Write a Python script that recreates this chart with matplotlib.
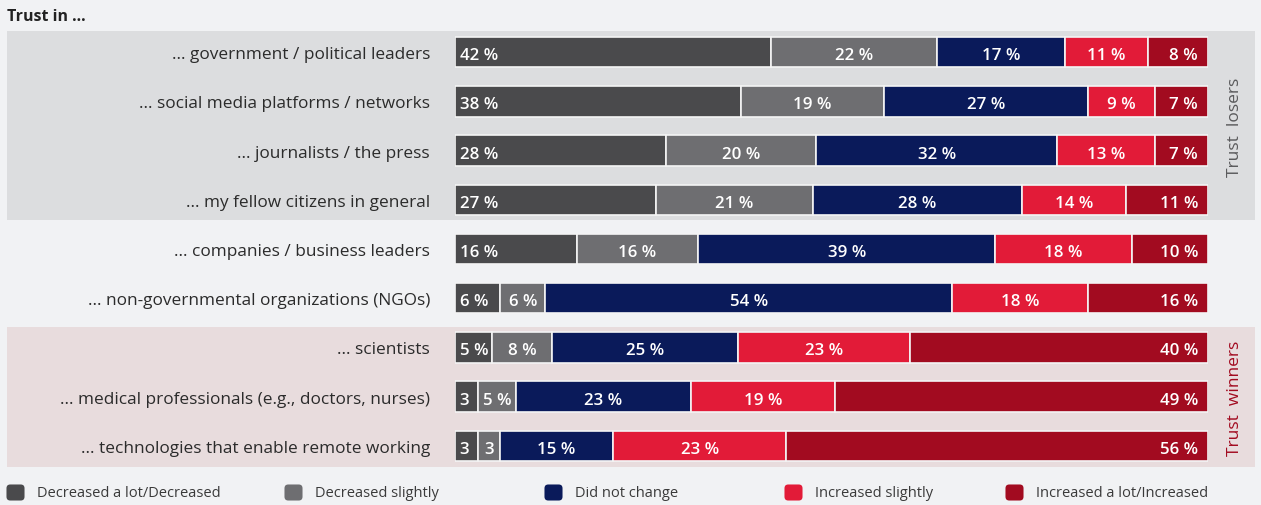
import matplotlib
matplotlib.use("Agg")
import matplotlib.pyplot as plt
from matplotlib.patches import Rectangle, FancyBboxPatch
import numpy as np

# ---- data ----
categories = [
    "... government / political leaders",
    "... social media platforms / networks",
    "... journalists / the press",
    "... my fellow citizens in general",
    "... companies / business leaders",
    "... non-governmental organizations (NGOs)",
    "... scientists",
    "... medical professionals (e.g., doctors, nurses)",
    "... technologies that enable remote working",
]
decreased_lot = [42, 38, 28, 27, 16, 6, 5, 3, 3]
decreased_slightly = [22, 19, 20, 21, 16, 6, 8, 5, 3]
no_change = [17, 27, 32, 28, 39, 54, 25, 23, 15]
increased_slightly = [11, 9, 13, 14, 18, 18, 23, 19, 23]
increased_lot = [8, 7, 7, 11, 10, 16, 40, 49, 56]
series_names = ["Decreased a lot/Decreased", "Decreased slightly", "Did not change",
                "Increased slightly", "Increased a lot/Increased"]
series_colors = ["#4a4a4c", "#6e6e71", "#0a1a5a", "#e21b38", "#a20b20"]

W, H = 1261, 506
BG = "#f1f2f4"
FONT = "Open Sans"

fig = plt.figure(figsize=(W / 100, H / 100), dpi=100, facecolor=BG)


def fx(px):
    return px / W


def fy(py):
    return 1 - py / H


# group bands (figure pixels), behind the axes
fig.patches.append(Rectangle((fx(7), fy(221)), fx(1255) - fx(7), fy(32) - fy(221),
                             transform=fig.transFigure, facecolor="#dcdddf",
                             edgecolor="none", zorder=-10))
fig.patches.append(Rectangle((fx(7), fy(468)), fx(1255) - fx(7), fy(328) - fy(468),
                             transform=fig.transFigure, facecolor="#e8dcdd",
                             edgecolor="none", zorder=-10))

# bar axes
row_top, row_bot = 28.6, 471.4
ax = fig.add_axes([fx(455), fy(row_bot), fx(1208) - fx(455), fy(row_top) - fy(row_bot)])
ax.set_facecolor("none")
ax.set_xlim(0, 100)
ax.set_ylim(len(categories) - 0.5, -0.5)
for s in ax.spines.values():
    s.set_visible(False)
ax.set_xticks([])
ax.set_yticks(range(len(categories)))
ax.set_yticklabels(categories, fontsize=12.4, family=FONT, color="#2b2b2b")
ax.tick_params(axis="y", length=0, pad=18)
for lbl in ax.get_yticklabels():
    lbl.set_va("center_baseline")

data = np.array([decreased_lot, decreased_slightly, no_change,
                 increased_slightly, increased_lot], dtype=float)
totals = data.sum(axis=0)
shares = data / totals * 100
y = np.arange(len(categories))
left = np.zeros(len(categories))
bar_h = 0.62
for k in range(5):
    ax.barh(y, shares[k], left=left, height=bar_h, color=series_colors[k],
            edgecolor="#f4f4f4", linewidth=1.2)
    for i in range(len(categories)):
        v = int(data[k, i])
        txt = f"{v} %" if v >= 5 else f"{v}"
        if k == 0:
            xpos, ha = left[i] + 0.6, "left"
        elif k == 4:
            xpos, ha = left[i] + shares[k, i] - 1.3, "right"
        else:
            xpos, ha = left[i] + shares[k, i] / 2, "center"
        ax.text(xpos, y[i] + 0.02, txt, ha=ha, va="center_baseline", color="white",
                fontsize=12.2, family=FONT, fontweight="semibold")
    left += shares[k]

# titles and group labels
fig.text(fx(7), fy(17), "Trust in ...", ha="left", va="center", fontsize=11.5,
         fontweight="bold", family=FONT, color="#222222")
fig.text(fx(1235), fy(127), "Trust  losers", rotation=90, ha="center", va="center",
         fontsize=12.5, family=FONT, color="#5a5a5c")
fig.text(fx(1235), fy(398), "Trust  winners", rotation=90, ha="center", va="center",
         fontsize=12.5, family=FONT, color="#a20b20")

# legend
leg_x = [7, 285, 545, 785, 1006]
for name, col, lx in zip(series_names, series_colors, leg_x):
    fig.patches.append(FancyBboxPatch((fx(lx + 2), fy(499)), fx(13), fy(488) - fy(499),
                                      boxstyle="round,pad=0.002,rounding_size=0.003",
                                      transform=fig.transFigure, facecolor=col,
                                      edgecolor="none", mutation_aspect=W / H))
    fig.text(fx(lx + 30), fy(493.5), name, ha="left", va="center", fontsize=10.5,
             family=FONT, color="#3a3a3a")

fig.savefig("out.png", dpi=100, facecolor=BG)
